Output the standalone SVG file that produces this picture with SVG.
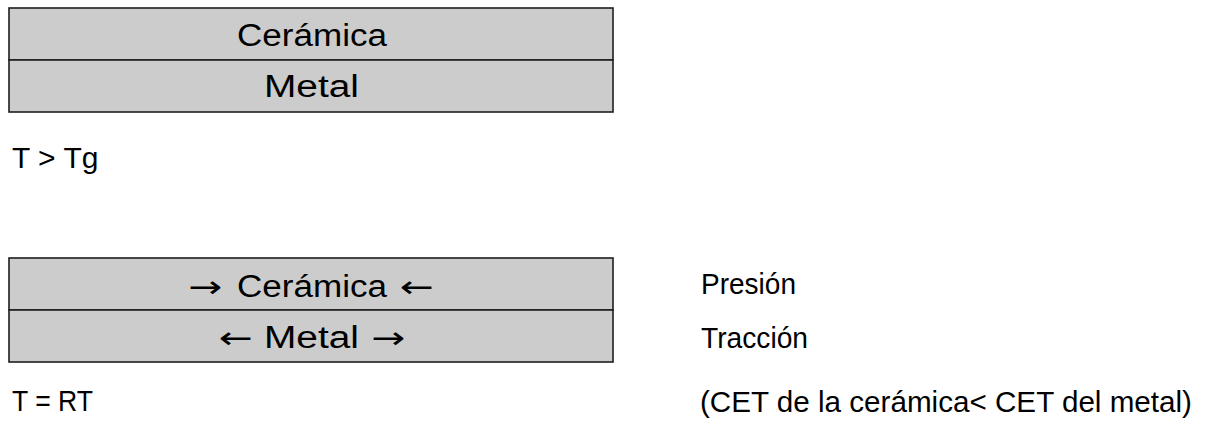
<svg xmlns="http://www.w3.org/2000/svg" width="1212" height="423" viewBox="0 0 1212 423">
<style>
.box{fill:#cccccc;stroke:#1e1e1e;stroke-width:1.6}
.t{font-family:"Liberation Sans",Arial,sans-serif;font-size:30px;fill:#000}
.b{font-family:"Liberation Sans",Arial,sans-serif;font-size:31px;fill:#000}
.ar{font-family:"DejaVu Sans",sans-serif;font-size:30px;fill:#000}
</style>
<rect width="1212" height="423" fill="#fff"/>
<g id="top-ceramica"><rect class="box" x="9" y="8" width="604" height="52"/><text class="b" x="237" y="46" textLength="150" lengthAdjust="spacingAndGlyphs">Cerámica</text></g>
<g id="top-metal"><rect class="box" x="9" y="60" width="604" height="52"/><text class="b" x="264" y="97" textLength="95" lengthAdjust="spacingAndGlyphs">Metal</text></g>
<text class="t" x="12" y="168">T &gt; Tg</text>
<g id="bot-ceramica"><rect class="box" x="9" y="258" width="604" height="52"/><text class="ar" x="188" y="297" textLength="34" lengthAdjust="spacingAndGlyphs">→</text><text class="b" x="237" y="297" textLength="150" lengthAdjust="spacingAndGlyphs">Cerámica</text><text class="ar" x="400" y="297" textLength="34" lengthAdjust="spacingAndGlyphs">←</text></g>
<g id="bot-metal"><rect class="box" x="9" y="310" width="604" height="52"/><text class="ar" x="219" y="348" textLength="34" lengthAdjust="spacingAndGlyphs">←</text><text class="b" x="264" y="348" textLength="95" lengthAdjust="spacingAndGlyphs">Metal</text><text class="ar" x="371" y="348" textLength="34" lengthAdjust="spacingAndGlyphs">→</text></g>
<text class="t" x="701" y="294" textLength="95" lengthAdjust="spacingAndGlyphs">Presión</text>
<text class="t" x="701" y="348" textLength="107" lengthAdjust="spacingAndGlyphs">Tracción</text>
<text class="t" x="12" y="411" textLength="81" lengthAdjust="spacingAndGlyphs">T = RT</text>
<text class="t" x="700" y="412" textLength="492" lengthAdjust="spacingAndGlyphs">(CET de la cerámica&lt; CET del metal)</text>
</svg>
